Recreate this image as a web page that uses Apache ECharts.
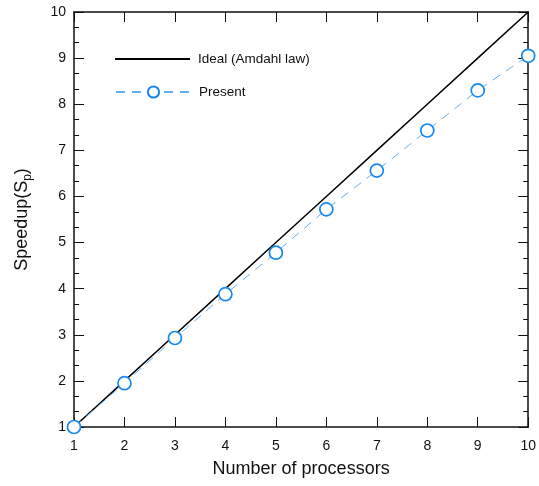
<!DOCTYPE html>
<html>
<head>
<meta charset="utf-8">
<script src="https://cdn.jsdelivr.net/npm/echarts@6/dist/echarts.min.js"></script>
<style>
  html, body { margin: 0; padding: 0; background: #fff; }
  #chart { width: 539px; height: 486px; }
</style>
</head>
<body>
<div id="chart"></div>
<script>
var processors = [1, 2, 3, 4, 5, 6, 7, 8, 9, 10];
var ideal = [1, 2, 3, 4, 5, 6, 7, 8, 9, 10];
var present = [1.0, 1.95, 2.93, 3.88, 4.78, 5.72, 6.56, 7.43, 8.30, 9.05];

function pairs(xs, ys) {
  var out = [];
  for (var i = 0; i < xs.length; i++) out.push([xs[i], ys[i]]);
  return out;
}

var chart = echarts.init(document.getElementById('chart'));
var font = 'Liberation Sans, Arial, sans-serif';
var legendText = { fontFamily: font, fontSize: 13.5, color: '#111', padding: [0, 0, 0, 3] };

var option = {
  animation: false,
  grid: { left: 74, right: 10, top: 12, bottom: 59 },
  legend: [{
    left: 110, top: 47,
    itemWidth: 75, itemHeight: 2,
    textStyle: legendText,
    data: [{ name: 'Ideal (Amdahl law)', icon: 'rect' }]
  }, {
    left: 110, top: 80,
    itemWidth: 75, itemHeight: 14,
    textStyle: legendText,
    data: ['Present']
  }],
  xAxis: [{
    type: 'value', min: 1, max: 10, interval: 1,
    name: 'Number of processors', nameLocation: 'middle', nameGap: 33,
    nameTextStyle: { fontFamily: font, fontSize: 18, color: '#111' },
    axisLine: { lineStyle: { color: '#111', width: 1.5 } },
    axisTick: { inside: true, length: 10, lineStyle: { color: '#111' } },
    axisLabel: { fontFamily: font, fontSize: 14, color: '#111', margin: 12 },
    splitLine: { show: false }
  }, {
    type: 'value', min: 1, max: 10, interval: 1, position: 'top',
    axisLine: { lineStyle: { color: '#111', width: 1.5 } },
    axisTick: { inside: true, length: 10, lineStyle: { color: '#111' } },
    axisLabel: { show: false },
    splitLine: { show: false }
  }],
  yAxis: [{
    type: 'value', min: 1, max: 10, interval: 1,
    name: '{a|Speedup(S}{b|p}{a|)}', nameLocation: 'middle', nameGap: 40, nameRotate: 90,
    nameTextStyle: {
      rich: {
        a: { fontFamily: font, fontSize: 18, color: '#111' },
        b: { fontFamily: font, fontSize: 12, color: '#111', verticalAlign: 'bottom', padding: [12, 0, 0, 0] }
      }
    },
    axisLine: { lineStyle: { color: '#111', width: 1.5 } },
    axisTick: { inside: true, length: 10, lineStyle: { color: '#111' } },
    minorTick: { show: true, splitNumber: 3, length: 5, lineStyle: { color: '#111' } },
    axisLabel: { fontFamily: font, fontSize: 14, color: '#111', margin: 8 },
    splitLine: { show: false }
  }, {
    type: 'value', min: 1, max: 10, interval: 1, position: 'right',
    axisLine: { lineStyle: { color: '#111', width: 1.5 } },
    axisTick: { inside: true, length: 10, lineStyle: { color: '#111' } },
    minorTick: { show: true, splitNumber: 3, length: 5, lineStyle: { color: '#111' } },
    axisLabel: { show: false },
    splitLine: { show: false }
  }],
  series: [{
    name: 'Ideal (Amdahl law)',
    type: 'line',
    data: pairs(processors, ideal),
    symbol: 'none',
    lineStyle: { color: '#000', width: 1.5 },
    itemStyle: { color: '#000' },
    z: 3
  }, {
    name: 'Present',
    type: 'line',
    data: pairs(processors, present),
    symbol: 'circle',
    symbolSize: 13,
    lineStyle: { color: '#62aef0', width: 1, type: [9, 7] },
    itemStyle: { color: '#fff', borderColor: '#1688f2', borderWidth: 1.7 },
    z: 4
  }]
};

chart.setOption(option);
</script>
</body>
</html>
